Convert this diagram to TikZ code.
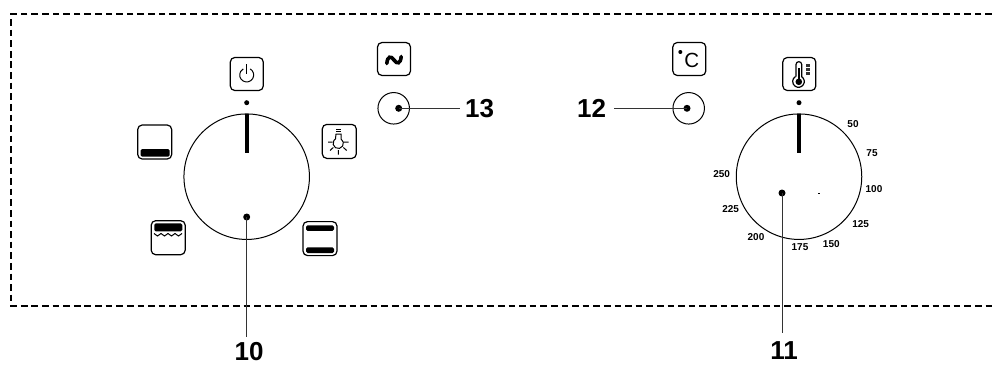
\documentclass[tikz,border=0pt]{standalone}
\usepackage{fontspec}
\setmainfont{Liberation Sans}
\tikzset{
  icon/.style={draw=black,line width=1.2pt,rounded corners=4.5pt,minimum size=33pt,inner sep=0pt},
  knob/.style={circle,draw=black,line width=1pt,inner sep=0pt},
  dot/.style={circle,fill=black,inner sep=0pt,minimum size=7pt},
  smalldot/.style={circle,fill=black,inner sep=0pt,minimum size=5pt},
  leader/.style={draw=black!80,line width=1pt},
  callout/.style={font=\fontsize{26}{26}\selectfont\bfseries,inner sep=0pt,outer sep=0pt},
  scalelab/.style={font=\fontsize{10}{10}\selectfont\bfseries,inner sep=0pt},
  pointer/.style={fill=black},
  bar/.style={fill=black,rounded corners=1.5pt},
  glyph/.style={draw=black,line width=1pt}
}
\begin{document}
\begin{tikzpicture}[x=1pt,y=-1pt]
\useasboundingbox (0,0) rectangle (992,364);
% frame
\draw[line width=1.9pt,dash pattern=on 6.7pt off 3.9pt] (992,14.3) -- (11,14.3) -- (11,306) -- (992,306);
% main dials
\node[knob,minimum size=125.5pt] (dialA) at (246.7,176.7) {};
\node[knob,minimum size=125.5pt] (dialB) at (799,176.7) {};
\fill[pointer] (244.6,114) rectangle (248.8,152.7);
\fill[pointer] (796.9,114) rectangle (801.1,152.7);
\node[smalldot] (markA) at (246.7,102.7) {};
\node[smalldot] (markB) at (799,102.7) {};
\fill (818.2,192.6) rectangle (820,193.6);
% callouts
\node[dot] (d10) at (246.7,217) {};
\node[dot] (d11) at (782,193) {};
\node[callout] (l10) at (249,351.5) {10};
\node[callout] (l11) at (784,351) {11};
\coordinate (e10) at (246.7,336.7);
\coordinate (e11) at (782,332.7);
\draw[leader] (d10.center) -- (e10);
\draw[leader] (d11.center) -- (e11);
% small knobs
\node[knob,minimum size=31.5pt] (knobL) at (393.7,108.3) {};
\node[knob,minimum size=31.5pt] (knobR) at (688.7,108.3) {};
\node[dot] (d13) at (398.7,108.3) {};
\node[dot] (d12) at (687,108.3) {};
\node[callout] (l13) at (479.5,108.3) {13};
\node[callout] (l12) at (591.5,108.3) {12};
\coordinate (e13) at (460,108.3);
\coordinate (e12) at (614,108.3);
\draw[leader] (d13.center) -- (e13);
\draw[leader] (d12.center) -- (e12);
% icon boxes
\node[icon] (power) at (246.8,74) {};
\node[icon] (wave) at (394,59) {};
\node[icon] (deg) at (689.3,59) {};
\node[icon] (therm) at (799.3,74) {};
\node[icon,minimum size=34pt] (lowheat) at (154.7,142) {};
\node[icon,minimum size=34pt] (lamp) at (339.3,141.4) {};
\node[icon,minimum size=34pt] (grill) at (168.2,237.7) {};
\node[icon,minimum size=34pt] (both) at (320,238.6) {};
% power glyph
\draw[glyph] (250.2,68.9) arc[start angle=-60,end angle=240,radius=7];
\draw[glyph] (246.7,64) -- (246.7,74);
% wave glyph
\draw[black,line width=3.6pt,line cap=round] (386.8,63.5) .. controls (387.5,56) and (391,55.5) .. (394,60) .. controls (397,64.5) and (400.5,64) .. (401.2,56.5);
% degree glyph
\node[font=\fontsize{20.5}{20.5}\selectfont,inner sep=0pt] (degC) at (691.7,60) {C};
\node[circle,fill=black,inner sep=0pt,minimum size=4pt] (degdot) at (680.3,52) {};
% thermometer glyph
\draw[line width=1.2pt] (796,76.7) -- (796,64.5) arc[start angle=180,end angle=360,radius=2.85] -- (801.7,76.7) arc[start angle=-56,end angle=236,radius=5.8];
\fill (798.8,81.8) circle[radius=3.3];
\fill (798,68) rectangle (799.6,80);
\fill[black!80] (805.5,64) rectangle (809.5,66.5);
\fill[black!80] (805.5,67.5) rectangle (809.5,70.5);
\fill[black!80] (805.5,71.5) rectangle (809.5,75);
% lamp glyph
\draw[glyph] (336,129.3) -- (341,129.3) (336,131.7) -- (341,131.7);
\draw[glyph] (336,134) -- (341,134) -- (341,138.9) arc[start angle=-58,end angle=238,radius=5.2] -- cycle;
\draw[glyph] (328,142) -- (332.5,142) (344.2,142) -- (348.7,142) (338.4,150) -- (338.4,154.5) (330,150.5) -- (333.3,147.5) (346.7,150.5) -- (343.4,147.5);
% heat bars
\fill[bar] (140.7,149) rectangle (169.7,156.7);
\fill[bar] (154.3,223.3) rectangle (182.3,231.3);
\draw[black,line width=1pt] (154,233.5) -- ++(3.5,2.5) -- ++(3.5,-2.5) -- ++(3.5,2.5) -- ++(3.5,-2.5) -- ++(3.5,2.5) -- ++(3.5,-2.5) -- ++(3.5,2.5) -- ++(3.5,-2.5);
\fill[bar] (306,225.3) rectangle (334,230.9);
\fill[bar] (306,247.3) rectangle (334,253);
% scale labels
\node[scalelab] (t50) at (853,123.7) {50};
\node[scalelab] (t75) at (872,152.7) {75};
\node[scalelab] (t100) at (874,189) {100};
\node[scalelab] (t125) at (860.7,224.3) {125};
\node[scalelab] (t150) at (831.3,244) {150};
\node[scalelab] (t175) at (800,247.3) {175};
\node[scalelab] (t200) at (756,237) {200};
\node[scalelab] (t225) at (730.7,209.3) {225};
\node[scalelab] (t250) at (721.7,174.3) {250};
\end{tikzpicture}
\end{document}
